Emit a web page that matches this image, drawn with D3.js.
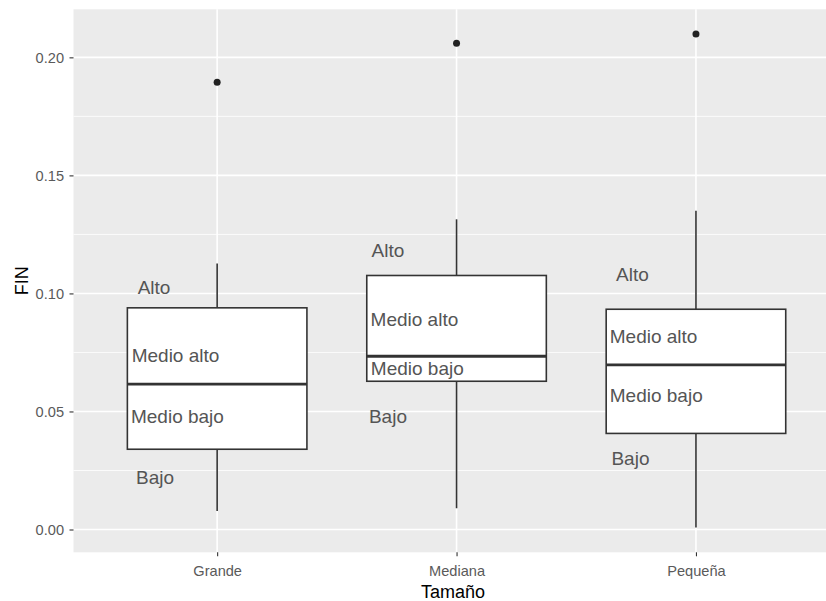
<!DOCTYPE html>
<html>
<head>
<meta charset="utf-8">
<script src="https://cdn.jsdelivr.net/npm/d3@7"></script>
<style>
  html, body { margin: 0; padding: 0; background: #ffffff; }
  svg { display: block; }
  text { font-family: "Liberation Sans", Arial, sans-serif; }
</style>
</head>
<body>
<svg id="chart" width="826" height="601"></svg>
<script>
// Box statistics of FIN by company size
const categories  = ["Grande", "Mediana", "Pequeña"];
const whiskerLow  = [0.0078, 0.0090, 0.0008];
const q1          = [0.0340, 0.0628, 0.0407];
const median      = [0.0616, 0.0734, 0.0697];
const q3          = [0.0939, 0.1076, 0.0933];
const whiskerHigh = [0.1127, 0.1314, 0.1350];
const outliers    = [0.1895, 0.2060, 0.2099];

// Level annotations placed beside each box (FIN value, offset in category units)
const levelNames = ["Alto", "Medio alto", "Medio bajo", "Bajo"];
const levelY = [
  [0.1025, 0.0737, 0.0478, 0.0220],
  [0.1183, 0.0889, 0.0682, 0.0480],
  [0.1080, 0.0819, 0.0569, 0.0300]
];
const levelDx = [
  [-0.332, -0.357, -0.360, -0.339],
  [-0.355, -0.359, -0.358, -0.366],
  [-0.334, -0.360, -0.360, -0.353]
];

const yTicks = [0.00, 0.05, 0.10, 0.15, 0.20];
const yMinor = [0.025, 0.075, 0.125, 0.175];

const svg = d3.select("#chart");
const panel = { left: 73.5, top: 9.3, right: 839.6, bottom: 552.3 };

// y domain: data range expanded by 5% on each side
const allVals = whiskerLow.concat(whiskerHigh, outliers);
const lo = d3.min(allVals), hi = d3.max(allVals), span = hi - lo;
const y = d3.scaleLinear()
  .domain([lo - 0.05 * span, hi + 0.05 * span])
  .range([panel.bottom, panel.top]);

const x = d3.scalePoint()
  .domain(categories)
  .range([panel.left, panel.right])
  .padding(0.6);
const boxW = x.step() * 0.75;

// panel background
svg.append("rect")
  .attr("x", panel.left).attr("y", panel.top)
  .attr("width", panel.right - panel.left)
  .attr("height", panel.bottom - panel.top)
  .attr("fill", "#ebebeb");

const grid = svg.append("g");
grid.selectAll("line.minor").data(yMinor).join("line")
  .attr("x1", panel.left).attr("x2", panel.right)
  .attr("y1", d => y(d)).attr("y2", d => y(d))
  .attr("stroke", "#ffffff").attr("stroke-width", 0.8);
grid.selectAll("line.majy").data(yTicks).join("line")
  .attr("x1", panel.left).attr("x2", panel.right)
  .attr("y1", d => y(d)).attr("y2", d => y(d))
  .attr("stroke", "#ffffff").attr("stroke-width", 1.6);
grid.selectAll("line.majx").data(categories).join("line")
  .attr("x1", d => x(d)).attr("x2", d => x(d))
  .attr("y1", panel.top).attr("y2", panel.bottom)
  .attr("stroke", "#ffffff").attr("stroke-width", 1.6);

// boxplots
const stats = categories.map((c, i) => ({
  c, lo: whiskerLow[i], q1: q1[i], med: median[i], q3: q3[i], hi: whiskerHigh[i], out: outliers[i]
}));
const boxes = svg.append("g").selectAll("g").data(stats).join("g");
const ink = "#333333";

boxes.append("line")
  .attr("x1", d => x(d.c)).attr("x2", d => x(d.c))
  .attr("y1", d => y(d.q3)).attr("y2", d => y(d.hi))
  .attr("stroke", ink).attr("stroke-width", 1.6);
boxes.append("line")
  .attr("x1", d => x(d.c)).attr("x2", d => x(d.c))
  .attr("y1", d => y(d.q1)).attr("y2", d => y(d.lo))
  .attr("stroke", ink).attr("stroke-width", 1.6);
boxes.append("rect")
  .attr("x", d => x(d.c) - boxW / 2).attr("width", boxW)
  .attr("y", d => y(d.q3)).attr("height", d => y(d.q1) - y(d.q3))
  .attr("fill", "#ffffff").attr("stroke", ink).attr("stroke-width", 1.6);
boxes.append("line")
  .attr("x1", d => x(d.c) - boxW / 2).attr("x2", d => x(d.c) + boxW / 2)
  .attr("y1", d => y(d.med)).attr("y2", d => y(d.med))
  .attr("stroke", ink).attr("stroke-width", 2.8);
boxes.append("circle")
  .attr("cx", d => x(d.c)).attr("cy", d => y(d.out)).attr("r", 3.5)
  .attr("fill", "#222222");

// level annotations
const labels = [];
categories.forEach((c, i) => levelNames.forEach((name, j) => {
  labels.push({ c, name, v: levelY[i][j], dx: levelDx[i][j] });
}));
svg.append("g").selectAll("text").data(labels).join("text")
  .attr("x", d => x(d.c) + d.dx * x.step())
  .attr("y", d => y(d.v))
  .attr("dy", "0.35em")
  .attr("font-size", 19)
  .attr("fill", "#555555")
  .text(d => d.name);

// axes
const yAxis = svg.append("g")
  .attr("transform", `translate(${panel.left},0)`)
  .call(d3.axisLeft(y).tickValues(yTicks).tickFormat(d3.format(".2f")).tickSize(4).tickPadding(5.5));
const xAxis = svg.append("g")
  .attr("transform", `translate(0,${panel.bottom})`)
  .call(d3.axisBottom(x).tickSize(4).tickPadding(9.5));
[yAxis, xAxis].forEach(ax => {
  ax.select(".domain").remove();
  ax.selectAll(".tick line").attr("stroke", ink).attr("stroke-width", 1.1);
  ax.selectAll(".tick text")
    .attr("fill", "#5a5a5a")
    .attr("font-size", 14.6)
    .attr("font-family", "'Liberation Sans', Arial, sans-serif");
});

// axis titles
svg.append("text")
  .attr("x", (panel.left + panel.right) / 2 - 3.5)
  .attr("y", 598)
  .attr("text-anchor", "middle")
  .attr("font-size", 18)
  .attr("fill", "#000000")
  .text("Tamaño");
svg.append("text")
  .attr("transform", `translate(28,${(panel.top + panel.bottom) / 2}) rotate(-90)`)
  .attr("text-anchor", "middle")
  .attr("font-size", 18)
  .attr("fill", "#000000")
  .text("FIN");
</script>
</body>
</html>
